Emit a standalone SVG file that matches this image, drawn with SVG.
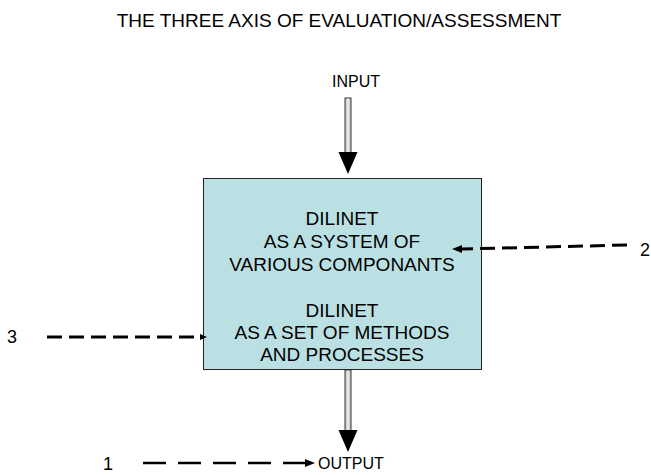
<svg xmlns="http://www.w3.org/2000/svg" width="651" height="475" viewBox="0 0 651 475">
<style>
text{font-family:"Liberation Sans",Arial,sans-serif;font-size:19px;fill:#000}
.c{text-anchor:middle}
.s{font-size:16px}
.n{font-size:18px}
.dash{stroke:#000;stroke-width:3;stroke-dasharray:15 7;fill:none}
.shaft{fill:#cfcfcf;stroke:#333;stroke-width:1}
.mid{stroke:#fff;stroke-width:1}
</style>
<rect width="651" height="475" fill="#fff"/>
<text class="c" x="339" y="27">THE THREE AXIS OF EVALUATION/ASSESSMENT</text>
<g id="input">
<text class="c s" x="356" y="87">INPUT</text>
</g>
<g id="box">
<rect x="203.5" y="178.5" width="278" height="191" fill="#BBE0E3" stroke="#222" stroke-width="1"/>
<text class="c" x="342" y="225">DILINET</text>
<text class="c" x="342" y="248">AS A SYSTEM OF</text>
<text class="c" x="342" y="271">VARIOUS COMPONANTS</text>
<text class="c" x="342" y="317">DILINET</text>
<text class="c" x="342" y="339">AS A SET OF METHODS</text>
<text class="c" x="342" y="361">AND PROCESSES</text>
</g>
<g id="output">
<text class="s" x="318" y="469">OUTPUT</text>
</g>
<g id="label2"><text class="n" x="640" y="256">2</text></g>
<g id="label3"><text class="n" x="7" y="343">3</text></g>
<g id="label1"><text class="n" x="103" y="470">1</text></g>
<g id="connectors">
<rect class="shaft" x="345" y="98" width="6" height="55"/>
<line class="mid" x1="348" y1="98.5" x2="348" y2="152"/>
<path d="M338.5,152 L357.5,152 L348,174 z" fill="#000"/>
<rect class="shaft" x="345" y="370" width="6" height="61"/>
<line class="mid" x1="348" y1="370.5" x2="348" y2="430"/>
<path d="M338.5,430 L357.5,430 L348,452 z" fill="#000"/>
<line class="dash" x1="627" y1="245" x2="462" y2="249"/>
<path d="M452,249 L462,245 L462,253 z" fill="#000"/>
<line class="dash" x1="47" y1="337" x2="200" y2="337"/>
<path d="M207,337 L200,334 L200,340 z" fill="#000"/>
<line x1="143" y1="463" x2="306" y2="463" stroke="#000" stroke-width="2.5" stroke-dasharray="23 12"/>
<path d="M315,463 L305,459 L305,467 z" fill="#000"/>
</g>
</svg>
